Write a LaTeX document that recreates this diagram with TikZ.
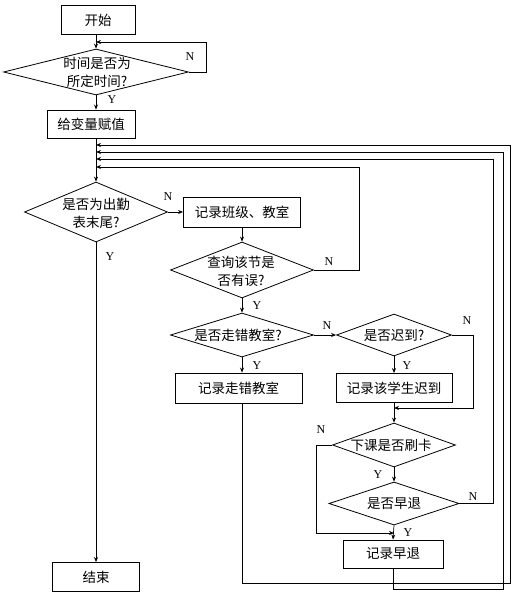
\documentclass[tikz,border=0pt]{standalone}
\usepackage{fontspec}
\setmainfont{Liberation Serif}
\newfontfamily\cjk{Noto Sans CJK SC}
\usetikzlibrary{shapes.geometric,arrows.meta}
\begin{document}
\begin{tikzpicture}[x=1pt,y=-1pt,line width=0.7pt,
  box/.style={draw,line width=0.9pt,inner sep=0pt,font=\cjk\fontsize{13.5}{18}\selectfont},
  dia/.style={draw,diamond,inner sep=0pt,line width=0.8pt},
  dtext/.style={font=\cjk\fontsize{13.5}{18}\selectfont,align=center,inner sep=0pt},
  lab/.style={font=\fontsize{12}{12}\selectfont,inner sep=0pt},
  arr/.style={-{Stealth[length=5pt,width=4pt]}}]
\useasboundingbox (0,0) rectangle (516,593);

% nodes
\node[box,minimum width=74pt,minimum height=29pt] (start) at (98,20) {开始};
\node[dia,minimum width=185pt,minimum height=46pt] (d1) at (96,72) {};
\node[dtext] (t1) at (97,72) {时间是否为\\所定时间?};
\node[box,minimum width=88pt,minimum height=28pt] (b1) at (91,124) {给变量赋值};
\node[dia,minimum width=143pt,minimum height=60pt] (d2) at (96,212) {};
\node[dtext] (t2) at (96,213) {是否为出勤\\表末尾?};
\node[box,minimum width=117pt,minimum height=30pt] (b2) at (242,212) {记录班级、教室};
\node[dia,minimum width=143pt,minimum height=56pt] (d3) at (242,270) {};
\node[dtext] (t3) at (241,271) {查询该节是\\否有误?};
\node[dia,minimum width=143pt,minimum height=44pt] (d4) at (242,335) {};
\node[dtext] (t4) at (238,335) {是否走错教室?};
\node[dia,minimum width=115pt,minimum height=42pt] (d5) at (394,335) {};
\node[dtext] (t5) at (394,335) {是否迟到?};
\node[box,minimum width=127pt,minimum height=30pt] (b3) at (238.5,388) {记录走错教室};
\node[box,minimum width=116pt,minimum height=29pt] (b4) at (394,388) {记录该学生迟到};
\node[dia,minimum width=123pt,minimum height=44pt] (d6) at (394,445) {};
\node[dtext] (t6) at (391,445) {下课是否刷卡};
\node[dia,minimum width=130pt,minimum height=43pt] (d7) at (394,503.5) {};
\node[dtext] (t7) at (394,503.5) {是否早退};
\node[box,minimum width=100pt,minimum height=28pt] (b5) at (393,554) {记录早退};
\node[box,minimum width=87pt,minimum height=29pt] (stop) at (96,577) {结束};

% junction coordinates on main line
\coordinate (j1) at (96,42);
\coordinate (j2) at (96,145);
\coordinate (j3) at (96,152);
\coordinate (j4) at (96,159);
\coordinate (j5) at (96,167);
\coordinate (j6) at (394,408);
\coordinate (j7) at (394,533);

% connectors
\draw[arr] (start.south -| d1.north) -- (d1.north);
\draw[arr] (d1.east) -- ++(17,0) |- (j1);
\draw[arr] (d1.south) -- (d1.south |- b1.north);
\draw[arr] (d1.south |- b1.south) -- (d2.north);
\draw[arr] (d2.east) -- (b2.west);
\draw[arr] (d2.south) -- (stop.north);
\draw[arr] (b2.south) -- (d3.north);
\draw[arr] (d3.east) -- ++(45,0) |- (j5);
\draw[arr] (d3.south) -- (d4.north);
\draw[arr] (d4.east) -- (d5.west);
\draw[arr] (d4.south) -- (d4.south |- b3.north);
\draw[arr] (d5.south) -- (b4.north);
\draw[arr] (d5.east) -- ++(21,0) |- (j6);
\draw[arr] (b4.south) -- (d6.north);
\draw[arr] (d6.south) -- (d7.north);
\draw[arr] (d6.west) -- ++(-16,0) |- (j7);
\draw[arr] (d7.south) -- (b5.north);
\draw[arr] (d7.east) -- ++(34,0) |- (j4);
\draw[arr] (b5.south) -- ++(0,21) -| (503,300) |- (j3);
\draw[arr] (b3.south -| d4.south) -- ++(0,180) -| (510,300) |- (j2);

% labels
\node[lab] (n1) at (190,57) {N};
\node[lab] (y1) at (112,100) {Y};
\node[lab] (n2) at (168,197) {N};
\node[lab] (y2) at (110,257) {Y};
\node[lab] (n3) at (329,262) {N};
\node[lab] (y3) at (257,306) {Y};
\node[lab] (n4) at (327,326) {N};
\node[lab] (y4) at (257,366) {Y};
\node[lab] (n5) at (467,321) {N};
\node[lab] (y5) at (407,366) {Y};
\node[lab] (n6) at (321,430) {N};
\node[lab] (y6) at (378,475) {Y};
\node[lab] (n7) at (473,497) {N};
\node[lab] (y7) at (408,533) {Y};
\end{tikzpicture}
\end{document}
